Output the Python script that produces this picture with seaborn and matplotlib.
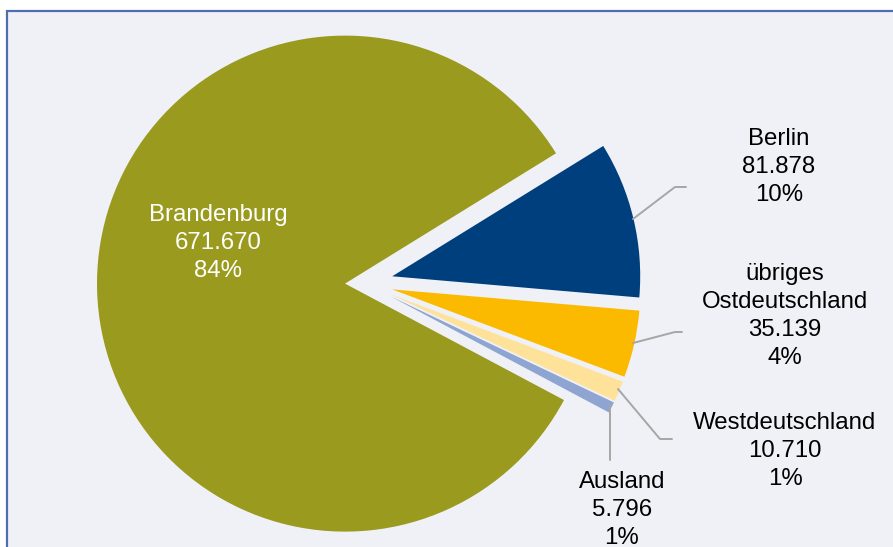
import matplotlib.pyplot as plt
import seaborn as sns
from matplotlib.patches import Rectangle

# Übernachtungen nach Herkunft
regions = ['Brandenburg', 'Berlin', 'übriges\nOstdeutschland', 'Westdeutschland', 'Ausland']
visitors = [671670, 81878, 35139, 10710, 5796]
shares = [84, 10, 4, 1, 1]

colors = ['#999A1E', '#003F7D', '#FBBA00', '#FFE29A', '#8EA5D2']
explode = [19, 29, 29, 29, 29]
label_pos = [(218, 304), (779, 380), (785, 231), (785, 96), (622, 37)]
leaders = [
    None,
    [(633, 328), (675, 360), (686, 360)],
    [(633, 204), (675, 215), (682, 215)],
    [(618, 158), (660, 108), (672, 108)],
    [(610, 142), (610, 87)],
]

sns.set_theme(style='white')
plt.rcParams['font.family'] = ['Liberation Sans', 'DejaVu Sans']

fig = plt.figure(figsize=(8.93, 5.47), dpi=100)
ax = fig.add_axes([0, 0, 1, 1])

# chart area
ax.add_patch(Rectangle((7, -20), 950, 556, facecolor='#EFF1F7',
                       edgecolor='#4F6EAD', lw=1.6, zorder=0))

ax.pie(visitors, colors=colors, explode=explode, startangle=332,
       counterclock=False, radius=248, center=(364, 264),
       wedgeprops=dict(linewidth=0))

for i, name in enumerate(regions):
    value = f'{visitors[i]:,}'.replace(',', '.')
    txt = f'{name}\n{value}\n{shares[i]}%'
    x, y = label_pos[i]
    ax.text(x, y, txt, ha='center', va='center', fontsize=17.3, linespacing=1.36,
            color='white' if i == 0 else 'black', zorder=5)
    if leaders[i] is not None:
        xs, ys = zip(*leaders[i])
        ax.plot(xs, ys, color='#A6A6A6', lw=1.4, zorder=4)

ax.set_xlim(0, 893)
ax.set_ylim(0, 547)
ax.set_aspect('equal')
ax.axis('off')

fig.savefig('out.png', dpi=100)
